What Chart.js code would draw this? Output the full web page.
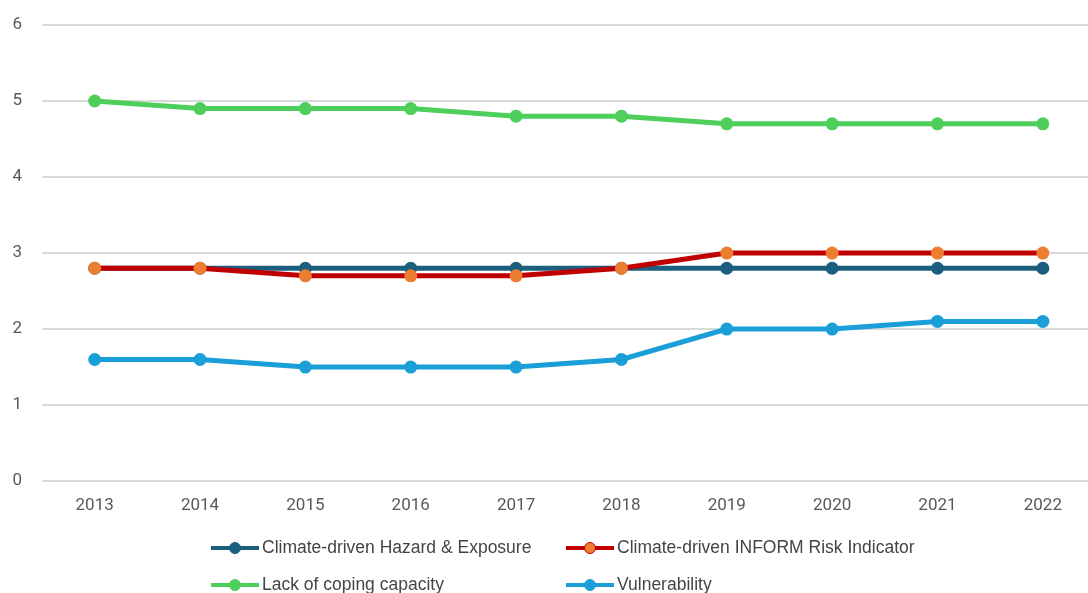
<!DOCTYPE html>
<html>
<head>
<meta charset="utf-8">
<script src="https://cdn.jsdelivr.net/npm/chart.js@4/dist/chart.umd.min.js"></script>
<style>
  html, body { margin: 0; padding: 0; background: #fff; overflow: hidden; }
  #wrap { position: relative; width: 1102px; height: 593px; }
  #legend { position: absolute; left: 0; top: 0; width: 1088px; height: 593px; pointer-events: none;
            font-family: "Liberation Sans Narrow", "Liberation Sans", Arial, sans-serif; font-size: 17.5px; color: #444; }
  .item { position: absolute; display: flex; align-items: center; white-space: nowrap; }
  .sym { position: relative; width: 48px; height: 12px; margin-right: 3px; }
  .sym .ln { position: absolute; left: 0; right: 0; top: 4px; height: 4px; }
  .sym .dot { position: absolute; left: 18px; top: 0; width: 12px; height: 12px; border-radius: 50%; box-sizing: border-box; }
</style>
</head>
<body>
<div id="wrap">
  <canvas id="ChartMain" width="1102" height="593"></canvas>
  <div id="legend"></div>
</div>
<script>
// data
const years = ['2013', '2014', '2015', '2016', '2017', '2018', '2019', '2020', '2021', '2022'];
const hazardExposure = [2.8, 2.8, 2.8, 2.8, 2.8, 2.8, 2.8, 2.8, 2.8, 2.8];
const informRisk = [2.8, 2.8, 2.7, 2.7, 2.7, 2.8, 3.0, 3.0, 3.0, 3.0];
const lackCoping = [5.0, 4.9, 4.9, 4.9, 4.8, 4.8, 4.7, 4.7, 4.7, 4.7];
const vulnerability = [1.6, 1.6, 1.5, 1.5, 1.5, 1.6, 2.0, 2.0, 2.1, 2.1];
const seriesNames = ['Climate-driven Hazard & Exposure', 'Climate-driven INFORM Risk Indicator',
    'Lack of coping capacity', 'Vulnerability'];

const colors = {
    navy: '#1b5e7e',
    red: '#c00000',
    orange: '#ed7d31',
    green: '#4ecf5b',
    blue: '#1a9fd8'
};

function mkSet(label, data, line, fill, border) {
    return {
        label: label,
        data: data,
        borderColor: line,
        backgroundColor: fill,
        pointBackgroundColor: fill,
        pointBorderColor: border,
        pointBorderWidth: border === line ? 0 : 1.5,
        pointRadius: 6.5,
        pointHoverRadius: 6.5,
        borderWidth: 5,
        tension: 0
    };
}

// first dataset is drawn on top, so the red series goes first
const chartData = {
    labels: years,
    datasets: [
        mkSet(seriesNames[1], informRisk, colors.red, colors.orange, colors.red),
        mkSet(seriesNames[0], hazardExposure, colors.navy, colors.navy, colors.navy),
        mkSet(seriesNames[2], lackCoping, colors.green, colors.green, colors.green),
        mkSet(seriesNames[3], vulnerability, colors.blue, colors.blue, colors.blue)
    ]
};

const tickFont = { family: 'Roboto, Arial, sans-serif', size: 17 };

const ctx = document.getElementById('ChartMain').getContext('2d');
window.myLine = new Chart(ctx, {
    type: 'line',
    data: chartData,
    options: {
        responsive: false,
        animation: false,
        layout: { padding: { top: 25, bottom: 63.5, left: 0, right: 0 } },
        plugins: {
            legend: { display: false },
            tooltip: { enabled: false }
        },
        scales: {
            x: {
                offset: true,
                grid: { display: false, drawTicks: false },
                border: { display: false },
                ticks: { color: '#595959', padding: 14, maxRotation: 0, font: tickFont }
            },
            y: {
                min: 0,
                max: 6,
                afterFit(scale) {
                    // fixed gutter, and no extra top/bottom room from the tick padding
                    scale.width = 42;
                    scale.paddingTop = 0;
                    scale.paddingBottom = 0;
                },
                grid: { color: '#d9d9d9', lineWidth: 2, drawTicks: false },
                border: { display: false },
                ticks: { stepSize: 1, color: '#595959', padding: 20, font: tickFont }
            }
        }
    }
});

// legend laid out as in the picture: two columns
const legendOrder = [
    { name: seriesNames[0], line: colors.navy, fill: colors.navy, border: colors.navy, x: 211, y: 548 },
    { name: seriesNames[1], line: colors.red, fill: colors.orange, border: colors.red, x: 566, y: 548 },
    { name: seriesNames[2], line: colors.green, fill: colors.green, border: colors.green, x: 211, y: 585 },
    { name: seriesNames[3], line: colors.blue, fill: colors.blue, border: colors.blue, x: 566, y: 585 }
];
const leg = document.getElementById('legend');
legendOrder.forEach(function (it) {
    const d = document.createElement('div');
    d.className = 'item';
    d.style.left = it.x + 'px';
    d.style.top = (it.y - 11) + 'px';
    d.innerHTML = '<span class="sym"><span class="ln" style="background:' + it.line + '"></span>' +
        '<span class="dot" style="background:' + it.fill + ';border:1.5px solid ' + it.border + '"></span></span>';
    const t = document.createElement('span');
    t.textContent = it.name;
    d.appendChild(t);
    leg.appendChild(d);
});
</script>
</body>
</html>
